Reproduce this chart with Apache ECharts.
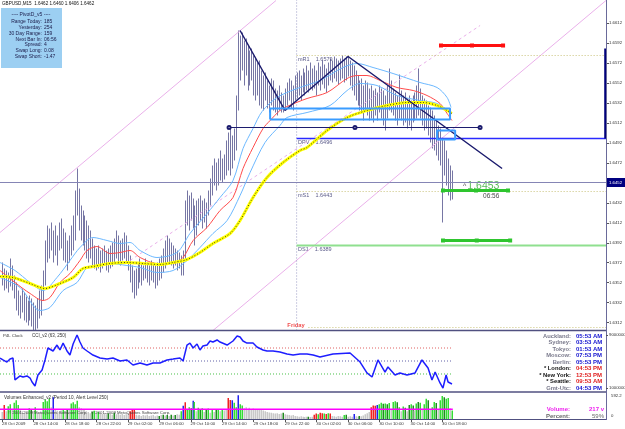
<!DOCTYPE html>
<html><head><meta charset="utf-8">
<script src="https://cdn.jsdelivr.net/npm/echarts@6/dist/echarts.min.js"></script>
<style>html,body{margin:0;padding:0;background:#fff}#c{width:625px;height:429px}</style>
</head><body><div id="c"></div>
<script>
// ---------- DATA ----------
const timeLabels = ['28 Oct 2009','28 Oct 14:00','28 Oct 18:00','28 Oct 22:00','29 Oct 02:00','29 Oct 06:00','29 Oct 10:00','29 Oct 14:00','29 Oct 18:00','29 Oct 22:00','30 Oct 02:00','30 Oct 06:00','30 Oct 10:00','30 Oct 14:00','30 Oct 18:00'];
const labelBars = [0,16,32,48,64,80,96,112,128,144,160,176,192,208,224];
const priceTicks = [1.6312,1.6332,1.6352,1.6372,1.6392,1.6412,1.6432,1.6472,1.6492,1.6512,1.6532,1.6552,1.6572,1.6592,1.6612];
const barHigh = [1.6372,1.6366,1.6364,1.6362,1.6376,1.6369,1.6359,1.6352,1.6344,1.6339,
1.6346,1.6342,1.6338,1.6334,1.6339,1.6336,1.6332,1.6329,1.6336,1.6344,
1.6349,1.6364,1.6394,1.6409,1.6406,1.6412,1.6404,1.6409,1.6399,1.6412,
1.6416,1.6406,1.6402,1.6394,1.6399,1.6409,1.6419,1.6444,1.6466,1.6446,
1.6429,1.6424,1.6419,1.6414,1.6409,1.6404,1.6396,1.6389,1.6386,1.6389,
1.6384,1.6386,1.6389,1.6384,1.6386,1.6389,1.6392,1.6396,1.6404,1.6399,
1.6394,1.6396,1.6402,1.6399,1.6389,1.6379,1.6369,1.6364,1.6366,1.6372,
1.6376,1.6372,1.6369,1.6376,1.6372,1.6369,1.6374,1.6372,1.6369,1.6372,
1.6376,1.6379,1.6386,1.6394,1.6399,1.6396,1.6392,1.6389,1.6386,1.6384,
1.6382,1.6379,1.6384,1.6434,1.6444,1.6439,1.6442,1.6436,1.6429,1.6434,
1.6436,1.6439,1.6434,1.6436,1.6432,1.6444,1.6456,1.6469,1.6476,1.6472,
1.6476,1.6484,1.6476,1.6480,1.6494,1.6502,1.6509,1.6499,1.6506,1.6539,
1.6604,1.6599,1.6602,1.6594,1.6596,1.6589,1.6584,1.6586,1.6579,1.6576,
1.6572,1.6574,1.6564,1.6559,1.6562,1.6554,1.6549,1.6556,1.6554,1.6546,
1.6544,1.6549,1.6542,1.6539,1.6546,1.6552,1.6556,1.6554,1.6549,1.6559,
1.6562,1.6564,1.6559,1.6566,1.6562,1.6569,1.6564,1.6572,1.6566,1.6569,
1.6564,1.6572,1.6568,1.6574,1.6570,1.6566,1.6572,1.6576,1.6574,1.6578,
1.6576,1.6574,1.6576,1.6579,1.6576,1.6578,1.6579,1.6574,1.6572,1.6569,
1.6564,1.6559,1.6554,1.6556,1.6549,1.6554,1.6552,1.6546,1.6549,1.6544,
1.6546,1.6542,1.6549,1.6546,1.6544,1.6539,1.6549,1.6566,1.6554,1.6546,
1.6542,1.6539,1.6560,1.6544,1.6539,1.6542,1.6536,1.6539,1.6534,1.6539,
1.6542,1.6549,1.6566,1.6546,1.6539,1.6536,1.6534,1.6529,1.6527,1.6524,
1.6519,1.6514,1.6509,1.6506,1.6497,1.6494,1.6484,1.6476,1.6469,1.6464];
const barLow = [1.6349,1.6344,1.6346,1.6342,1.6348,1.6344,1.6336,1.6324,1.6319,1.6316,
1.6322,1.6314,1.6312,1.6309,1.6314,1.6308,1.6304,1.6304,1.6306,1.6316,
1.6319,1.6334,1.6349,1.6372,1.6376,1.6384,1.6372,1.6379,1.6369,1.6384,
1.6386,1.6374,1.6372,1.6364,1.6372,1.6379,1.6384,1.6394,1.6419,1.6404,
1.6394,1.6389,1.6384,1.6376,1.6372,1.6376,1.6369,1.6366,1.6364,1.6366,
1.6362,1.6366,1.6369,1.6364,1.6362,1.6366,1.6368,1.6372,1.6376,1.6372,
1.6369,1.6374,1.6376,1.6372,1.6364,1.6352,1.6342,1.6336,1.6339,1.6346,
1.6352,1.6349,1.6354,1.6356,1.6352,1.6349,1.6354,1.6352,1.6346,1.6349,
1.6354,1.6356,1.6362,1.6366,1.6372,1.6372,1.6369,1.6366,1.6369,1.6364,
1.6366,1.6359,1.6359,1.6374,1.6409,1.6404,1.6414,1.6406,1.6389,1.6399,
1.6409,1.6414,1.6406,1.6412,1.6406,1.6419,1.6429,1.6439,1.6449,1.6444,
1.6449,1.6454,1.6452,1.6455,1.6459,1.6464,1.6459,1.6466,1.6474,1.6484,
1.6524,1.6554,1.6564,1.6549,1.6559,1.6544,1.6549,1.6554,1.6539,1.6534,
1.6539,1.6529,1.6526,1.6524,1.6534,1.6526,1.6522,1.6529,1.6524,1.6522,
1.6519,1.6524,1.6522,1.6522,1.6526,1.6529,1.6534,1.6526,1.6524,1.6534,
1.6536,1.6539,1.6534,1.6542,1.6539,1.6544,1.6542,1.6546,1.6544,1.6546,
1.6539,1.6549,1.6544,1.6550,1.6546,1.6542,1.6549,1.6554,1.6552,1.6556,
1.6553,1.6550,1.6554,1.6556,1.6552,1.6554,1.6558,1.6549,1.6544,1.6539,
1.6534,1.6529,1.6524,1.6522,1.6514,1.6524,1.6519,1.6514,1.6516,1.6512,
1.6519,1.6514,1.6522,1.6516,1.6509,1.6504,1.6516,1.6524,1.6522,1.6519,
1.6514,1.6509,1.6516,1.6514,1.6509,1.6512,1.6506,1.6509,1.6504,1.6512,
1.6514,1.6516,1.6519,1.6516,1.6509,1.6504,1.6506,1.6499,1.6492,1.6486,
1.6484,1.6479,1.6474,1.6469,1.6412,1.6459,1.6449,1.6439,1.6434,1.6435];
const maYellow = [[-1,1.6358],[5.6,1.6357],[14.3,1.6351],[21.9,1.6346],[29.5,1.6351],[36.2,1.6357],[41.2,1.6366],[46.3,1.6368],[55,1.6371],[63.6,1.6372],[71.8,1.6371],[80.4,1.6370],[87.1,1.6372],[94.2,1.6375],[100.8,1.6382],[107.4,1.6391],[116.1,1.6401],[121.2,1.6414],[127.8,1.6437],[134.9,1.6457],[143.1,1.6472],[151.7,1.6484],[155.3,1.6487],[165.5,1.6504],[175.7,1.6517],[185.8,1.6524],[196,1.6529],[206.2,1.6532],[214.4,1.6532],[221.5,1.6529],[226.6,1.6524],[229,1.6521]];
const maRed = [[-1,1.6364],[6.6,1.6352],[14.3,1.6341],[20.9,1.6334],[24.4,1.6337],[29.5,1.6352],[34.6,1.6361],[39.7,1.6374],[43.3,1.6384],[48.4,1.6388],[55,1.6381],[60.1,1.6382],[65.2,1.6384],[70.3,1.6377],[78.9,1.6371],[87.1,1.6371],[92.2,1.6377],[97.3,1.6394],[104.4,1.6407],[111,1.6424],[117.6,1.6437],[122.7,1.6466],[127.8,1.6487],[132.9,1.6506],[136.5,1.6514],[141.5,1.6524],[145.1,1.6528],[155.3,1.6536],[165.5,1.6542],[175.7,1.6556],[180.8,1.6559],[185.8,1.6559],[192.5,1.6554],[201.1,1.6547],[209.3,1.6544],[216.4,1.6539],[223,1.6531],[226.6,1.6521],[229.1,1.6514]];
const bandUpper = [[-1,1.6372],[6.6,1.6364],[14.3,1.6352],[20.9,1.6344],[28,1.6357],[34.6,1.6374],[39.7,1.6387],[46.3,1.6397],[53.5,1.6394],[60.1,1.6391],[65.2,1.6392],[70.3,1.6384],[78.9,1.6377],[89.1,1.6382],[95.7,1.6401],[104.4,1.6421],[111,1.6437],[117.6,1.6454],[122.7,1.6486],[127.8,1.6506],[132.4,1.6523],[140,1.6537],[150.2,1.6546],[161.9,1.6554],[173.6,1.6567],[180.8,1.6571],[188.9,1.6567],[199.1,1.6561],[212.8,1.6552],[221.5,1.6547],[226.6,1.6537],[228.6,1.6527]];
const bandLower = [[-1,1.6357],[9.2,1.6347],[19.3,1.6324],[24.4,1.6327],[31.1,1.6344],[38.2,1.6352],[43.3,1.6367],[48.4,1.6369],[55,1.6371],[63.6,1.6369],[70.3,1.6367],[78.9,1.6362],[87.1,1.6364],[94.2,1.6374],[100.8,1.6387],[107.4,1.6401],[114.6,1.6414],[121.2,1.6439],[126.3,1.6462],[133.9,1.6492],[141.5,1.6509],[145.1,1.6517],[155.3,1.6522],[167,1.6529],[175.7,1.6544],[182.3,1.6551],[190.9,1.6549],[201.1,1.6539],[212.8,1.6534],[221.5,1.6531],[228.1,1.6522]];
const channelA = [[-1.02,1.6402],[139.5,1.6634]];
const channelB = [[107.4,1.6304],[307.5,1.6634]];
const channelMid = [[65.2,1.6374],[243.4,1.6609]];
const zigzag = [[121.2,1.6604],[144.1,1.6524],[176.2,1.6578],[254.6,1.6466]];
const hLine = [[115.6,1.6507],[179.7,1.6507],[243.4,1.6507]];
const box1 = {x:[136.5,228.1], y:[1.6515,1.6526]};
const box2 = {x:[221.5,230.7], y:[1.6495,1.6504]};
const redSeg = [[223.5,1.6589],[239.3,1.6589],[255.1,1.6589]];
const greenUp = [[224.5,1.6444],[241.3,1.6444],[257.6,1.6444]];
const greenLow = [[224.5,1.6394],[241.7,1.6394],[258.7,1.6394]];
const pivotNames = ['mR1','DPV','mS1','DS1'];
const pivotValues = [1.6579,1.6496,1.6443,1.6389];
const lowDotted = 1.6307;
const dayStart = 150;
const bidPrice = 1.6452;
const rangeBar = [[307.1,1.6586],[307.1,1.6496]];
const cciPoints = [[-1,23],[0.5,8],[2.5,-8],[4.1,15],[5.6,23],[6.6,-146],[7.6,-154],[9.2,-115],[10.7,-123],[12.7,-115],[14.3,-131],[15.3,-162],[16.8,-192],[18.3,-108],[20.4,-69],[21.9,8],[23.4,100],[24.4,115],[26,77],[28,123],[29.5,85],[31.1,138],[33.1,77],[34.6,46],[36.2,131],[38.2,200],[39.7,146],[41.2,100],[43.3,77],[46.3,46],[49.9,23],[53.5,15],[56.5,23],[60.1,0],[63.6,8],[66.7,-31],[70.3,-15],[73.8,-31],[76.9,-15],[80.4,-15],[84,8],[87.1,15],[90.6,23],[92.2,0],[94.2,123],[95.7,138],[97.3,100],[99.3,131],[100.8,85],[102.3,115],[104.4,123],[105.9,154],[107.4,146],[109.5,162],[111,146],[114.6,123],[117.6,154],[119.7,192],[121.2,185],[122.7,154],[124.7,138],[127.8,138],[129.8,108],[132.9,85],[134.9,77],[138,77],[141.5,69],[145.1,54],[148.2,46],[151.7,54],[155.3,54],[158.4,46],[161.9,31],[168.5,54],[177.2,62],[182.3,-8],[185.8,-92],[188.4,-123],[191.4,8],[195,-85],[196.5,-46],[200.1,-108],[202.6,-92],[206.2,-108],[210.3,-92],[213.8,8],[216.9,-54],[218.9,-146],[220.5,-85],[223,-169],[224.5,-208],[226.1,-108],[227.1,-162],[229.1,-177]];
const cciLevels = [100,0,-100];
const volumes = [180,360,200,330,380,230,420,480,360,260,200,150,180,140,280,240,200,300,170,150,
190,440,500,460,520,300,560,260,210,180,220,240,200,250,230,400,430,380,470,300,
280,260,240,200,180,150,190,210,170,180,140,130,150,120,150,130,110,160,120,140,
110,130,100,120,150,200,250,230,110,90,100,80,100,90,110,80,90,100,70,90,
80,100,110,90,100,80,110,90,100,120,110,200,340,430,260,300,280,470,440,200,
290,260,280,180,240,270,160,250,180,260,240,200,250,220,250,540,490,480,420,300,
610,380,350,280,300,260,290,250,270,240,260,230,250,220,200,180,170,160,150,140,
150,130,140,160,120,110,100,90,100,80,70,60,70,60,50,60,60,50,60,110,
140,120,160,150,140,130,150,140,80,70,60,80,70,60,100,110,60,70,60,130,
70,60,80,70,90,120,150,180,300,350,340,360,380,420,390,400,380,410,250,440,
460,430,300,200,320,290,200,360,380,350,220,400,440,420,250,380,520,480,250,300,
440,410,240,480,590,560,520,540,280,217];
const volKinds = 'nrnggngggn'+'nnnngdngnn'+'nggggnbnnn'+'ngndnggggn'+'nnnnnndgng'+
 'nnnndnndnn'+'nnnnnrrrnn'+'nnnnnnnnnn'+'dndndndndn'+'ngbrggdbgn'+
 'gdgndgngnd'+'gngnnrrbgg'+'bggnnnnnnn'+'nnnnnnnnnn'+'nnndnnnnnn'+
 'nnnnnndnnr'+'rgrrgrgrnn'+'nnnngdnnnb'+'nndnnnnnrr'+'rbggdgdgng'+
 'gdgngdndgd'+'ngdgnggdng'+'gdnggdggng';
const volAlert = 250;
const volMax = 592.2;
const infoLabels = ['Range Today:','Yesterday:','30 Day Range:','Next Bar In:','Spread:','Swap Long:','Swap Short:'];
const infoValues = ['185','254','159','06:56','4','0.08','-1.47'];
const clockCities = ['Auckland:','Sydney:','Tokyo:','Moscow:','Berlin:','* London:','* New York:','* Seattle:','Gmt-Utc:'];
const clockTimes = ['05:53 AM','03:53 AM','01:53 AM','07:53 PM','05:53 PM','04:53 PM','12:53 PM','09:53 AM','04:53 PM'];
const clockMarked = [false,false,false,false,false,true,true,true,false];

// ---------- CHART ----------
const FONT = '"Liberation Sans", Arial, sans-serif';
const XMIN = -1.018, XMAX = 307.5;
const chart = echarts.init(document.getElementById('c'), null, {renderer:'canvas'});
const kindColor = {n:'#c8c8c8', g:'#33dd33', d:'#1f8a1f', r:'#ee2222', b:'#2222ee'};

function seg(data, color, width, type, extra) {
  return Object.assign({type:'line', data, symbol:'none', silent:true, animation:false,
    lineStyle:{color, width, type: type || 'solid'}, xAxisIndex:0, yAxisIndex:0}, extra || {});
}
function rectPts(b){ return [[b.x[0],b.y[0]],[b.x[1],b.y[0]],[b.x[1],b.y[1]],[b.x[0],b.y[1]],[b.x[0],b.y[0]]]; }

const series = [];
series.push(seg(channelA, '#eab0ea', 1));
series.push(seg(channelB, '#eab0ea', 1));
series.push(seg(channelMid, '#eab0ea', 1, [3,3]));
series.push(seg([[dayStart,1.6304],[dayStart,1.6635]], '#9a9ac4', 1, [1,2]));
series.push(seg([[XMIN,bidPrice],[XMAX,bidPrice]], '#8585b5', 1));
series.push(seg([[dayStart,pivotValues[0]],[XMAX,pivotValues[0]]], '#c9c27a', 1, [1,2]));
series.push(seg([[dayStart,pivotValues[1]],[XMAX,pivotValues[1]]], '#2a2aff', 1.5));
series.push(seg([[dayStart,pivotValues[2]],[XMAX,pivotValues[2]]], '#c9c27a', 1, [1,2]));
series.push(seg([[dayStart,pivotValues[3]],[XMAX,pivotValues[3]]], '#8fe08f', 2));
series.push(seg([[dayStart+6,lowDotted],[XMAX,lowDotted]], '#c9c27a', 1, [1,2]));
series.push(seg(bandUpper, '#6cb8ff', 1, 'solid', {smooth:0.3}));
series.push(seg(bandLower, '#6cb8ff', 1, 'solid', {smooth:0.3}));
series.push(seg(maRed, '#ff4b4b', 1, 'solid', {smooth:0.3}));
series.push(seg(maYellow, '#ffff00', 3, 'solid', {smooth:0.3}));
series.push(seg(maYellow, '#3a3a20', 1, [1,2], {smooth:0.3}));
series.push({type:'custom', xAxisIndex:0, yAxisIndex:0, silent:true, animation:false,
  data: barHigh.map((h,i)=>[i, barLow[i], h]),
  encode:{x:0, y:[1,2]},
  renderItem:(p, api)=>{
    const x = api.value(0);
    const lo = api.coord([x, api.value(1)]), hi = api.coord([x, api.value(2)]);
    const px = Math.round(lo[0]) + 0.5;
    return {type:'line', shape:{x1:px, y1:lo[1], x2:px, y2:hi[1]}, style:{stroke:'#7676a4', lineWidth:1}};
  }});
series.push(seg(zigzag, '#1c1c6e', 1.5));
series.push(seg(hLine, '#1c1c6e', 1.2, 'solid', {symbol:'emptyCircle', symbolSize:3, itemStyle:{color:'#1c1c6e'}}));
series.push(seg(rectPts(box1), '#3a9cff', 2));
series.push(seg(rectPts(box2), '#3a9cff', 2));
series.push(seg(redSeg, '#ff1010', 3, 'solid', {symbol:'rect', symbolSize:4, itemStyle:{color:'#ff1010'}}));
series.push(seg(greenUp, '#2ec52e', 3, 'solid', {symbol:'rect', symbolSize:4, itemStyle:{color:'#2ec52e'}}));
series.push(seg(greenLow, '#2ec52e', 3, 'solid', {symbol:'rect', symbolSize:4, itemStyle:{color:'#2ec52e'}}));
series.push(seg(rangeBar, '#00007a', 2));
series.push({type:'scatter', xAxisIndex:0, yAxisIndex:0, symbolSize:0, silent:true, animation:false,
  data: pivotValues.map((v,i)=>({value:[150.7, v], label:{formatter: pivotNames[i] + '    ' + v.toFixed(4)}})),
  label:{show:true, position:'right', distance:0, offset:[0,4], fontSize:5.5, color:'#30306a', fontFamily:FONT}});
series.push({type:'scatter', xAxisIndex:0, yAxisIndex:0, symbolSize:0, silent:true, animation:false,
  data:[{value:[234.7, 1.6444], label:{formatter:'{a|^}{b|1.6453}', offset:[0,-4]}},
        {value:[244.9, 1.6444], label:{formatter:'{c|06:56}', offset:[0,6]}},
        {value:[149.7, 1.63095], label:{formatter:'{d|Friday}', position:'inside'}}],
  label:{show:true, position:'right', distance:0, fontFamily:FONT,
    rich:{a:{fontSize:7, color:'#111', fontFamily:FONT, padding:[0,1,0,0]}, b:{fontSize:10.5, color:'#2eaa2e', fontFamily:FONT},
          c:{fontSize:6.5, color:'#111', fontFamily:FONT}, d:{fontSize:5.8, color:'#ee2020', fontWeight:'bold', fontFamily:FONT}}}});
cciLevels.forEach((lv,i)=>{
  series.push({type:'line', xAxisIndex:1, yAxisIndex:1, symbol:'none', silent:true, animation:false,
    data:[[XMIN,lv],[229.5,lv]], lineStyle:{color:['#e06060','#6060a8','#48c048'][i], width:1, type:[1,2]}});
});
series.push({type:'line', xAxisIndex:1, yAxisIndex:1, symbol:'none', silent:true, animation:false,
  data:cciPoints, lineStyle:{color:'#1e1eff', width:1.5}});
series.push({type:'custom', xAxisIndex:2, yAxisIndex:2, silent:true, animation:false,
  data: volumes.map((v,i)=>[i, v]), encode:{x:0, y:1},
  renderItem:(p, api)=>{
    const i = api.value(0);
    const top = api.coord([i, api.value(1)]), base = api.coord([i, 0]);
    return {type:'rect', shape:{x: Math.round(top[0]) - 0.5, y: top[1], width:1.5, height: base[1]-top[1]},
      style:{fill: kindColor[volKinds[p.dataIndex]] || '#c8c8c8'}};
  }});
series.push({type:'line', xAxisIndex:2, yAxisIndex:2, symbol:'none', silent:true, animation:false,
  data:[[XMIN,volAlert],[229.5,volAlert]], lineStyle:{color:'#ff00ff', width:1.5}});

const gridBase = {left:0, right:19, containLabel:false, outerBoundsMode:'none'};
const hiddenX = i => ({type:'value', gridIndex:i, min:XMIN, max:XMAX, show:false});
chart.setOption({
  animation:false,
  backgroundColor:'#ffffff',
  grid:[Object.assign({top:0, height:330}, gridBase), Object.assign({top:331, height:60}, gridBase), Object.assign({top:393, height:26}, gridBase)],
  xAxis:[hiddenX(0), hiddenX(1), {type:'value', gridIndex:2, min:XMIN, max:XMAX, position:'bottom',
    axisLine:{show:false}, splitLine:{show:false}, axisTick:{show:false},
    axisLabel:{customValues:labelBars, align:'left', margin:3, fontSize:4.3, color:'#333', fontFamily:FONT,
      formatter:v=>timeLabels[Math.round(v/16)] || ''}}],
  yAxis:[{type:'value', gridIndex:0, position:'right', min:1.63045, max:1.66345, scale:true,
    axisLine:{show:false}, splitLine:{show:false}, axisTick:{show:false},
    axisLabel:{customValues:priceTicks, margin:3, fontSize:4.3, color:'#333', fontFamily:FONT, formatter:v=>v.toFixed(4)}},
    {type:'value', gridIndex:1, min:-231, max:231, show:false},
    {type:'value', gridIndex:2, min:0, max:670, show:false}],
  series
});

// ---------- fixed overlays (text panels, separators, ticks) ----------
const g = [];
const txt = (x,y,text,o) => g.push({type:'text', x, y, silent:true, z:100, style:Object.assign({text, fill:'#222', fontSize:5, fontFamily:FONT,
  textAlign:'left', align:'left', textVerticalAlign:'middle', verticalAlign:'middle'}, o||{})});
const line = (x1,y1,x2,y2,stroke,w) => g.push({type:'line', silent:true, z:90, shape:{x1,y1,x2,y2}, style:{stroke, lineWidth:w}});
line(0,330.5,606,330.5,'#505080',1.5);
line(0,392,606,392,'#505080',1.5);
line(0,419.5,606,419.5,'#505080',1);
line(606.5,0,606.5,420,'#6a6a9a',1);
priceTicks.forEach(v=>{ const y = Math.round(chart.convertToPixel({yAxisIndex:0}, v)) + 0.5; line(607,y,609,y,'#555',1); });
labelBars.forEach(b=>{ const x = Math.round(chart.convertToPixel({xAxisIndex:2}, b)) + 0.5; line(x,420,x,422,'#555',1); });
txt(2,4,'GBPUSD,M15  1.6462 1.6460 1.6406 1.6462',{fontSize:4.6, fill:'#111'});
g.push({type:'rect', silent:true, z:95, shape:{x:1, y:8, width:61, height:60}, style:{fill:'#9ccff2'}});
txt(31,15,'---- PivotD_v5 ----',{textAlign:'center', align:'center', fill:'#1c1c4a'});
infoLabels.forEach((l,i)=>{
  const y = [22,28,33.5,39.5,45,51,57][i];
  txt(42,y,l,{textAlign:'right', align:'right', fill:'#1c1c4a'});
  txt(44,y,infoValues[i],{fill:'#1c1c4a'});
});
const bidY = chart.convertToPixel({yAxisIndex:0}, bidPrice);
g.push({type:'rect', silent:true, z:100, shape:{x:607, y:bidY-4.5, width:19, height:9}, style:{fill:'#000080'}});
txt(609,bidY,bidPrice.toFixed(4),{fontSize:4.3, fill:'#ffffff'});
txt(3,336,'P4L Clock',{fontSize:4.3, fill:'#333'});
txt(32,336,'CCI_v2 (63, 250)',{fontSize:4.5, fill:'#333'});
txt(609,335,'9000000',{fontSize:4.3, fill:'#333'});
txt(609,388,'1000000',{fontSize:4.3, fill:'#333'});
line(606,335.5,608,335.5,'#555',1); line(606,388.5,608,388.5,'#555',1);
clockCities.forEach((c,i)=>{
  const y = 336 + i*6.5;
  txt(571,y,c,{textAlign:'right', align:'right', fontSize:5.8, fontWeight:'bold', fill: clockMarked[i] ? '#111' : '#7a7a8c'});
  txt(576,y,clockTimes[i],{fontSize:6, fontWeight:'bold', fill: clockMarked[i] ? '#e02020' : '#1414d0'});
});
txt(4,398,'Volumes Enhanced_v2 (Period 10, Alert Level 250)',{fontSize:4.6, fill:'#333'});
txt(8,413,'© 2001-2009 MetaQuotes Software Corp.   © 2001-2009 MetaQuotes Software Corp.',{fontSize:4.3, fill:'#444'});
txt(570,409,'Volume:',{textAlign:'right', align:'right', fontSize:6, fontWeight:'bold', fill:'#ee22ee'});
txt(604,409,'217 v',{textAlign:'right', align:'right', fontSize:6, fontWeight:'bold', fill:'#ee22ee'});
txt(570,416,'Percent:',{textAlign:'right', align:'right', fontSize:6, fontWeight:'bold', fill:'#6a6a6a'});
txt(604,416,'59%',{textAlign:'right', align:'right', fontSize:6, fill:'#6a6a6a'});
txt(611,396,String(volMax),{fontSize:4.3, fill:'#333'});
txt(611,416,'0',{fontSize:4.3, fill:'#333'});
chart.setOption({graphic:{elements:g}});
</script></body></html>
